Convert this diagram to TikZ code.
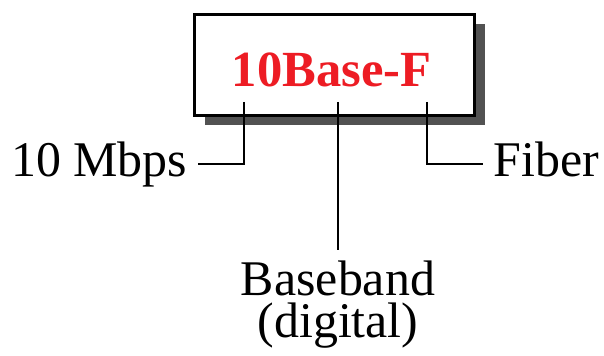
\documentclass[tikz,border=0pt]{standalone}
\usepackage{fontspec}
\setmainfont{Liberation Serif}
\usepackage{tikz}
\usetikzlibrary{
    calc,
    positioning,
    shadows
}
\definecolor{namered}{RGB}{237,28,36}
\tikzset{
    namebox/.style={draw, line width=2.3pt, fill=white,
        minimum width=7cm, minimum height=2.525cm, inner sep=0pt,
        drop shadow={shadow xshift=0.25cm, shadow yshift=-0.25cm,
            fill=black!68, opacity=1}},
    namefont/.style={font=\fontsize{36pt}{40pt}\selectfont\bfseries,
        text=namered, inner sep=0pt},
    part/.style={font=\fontsize{35.5pt}{40pt}\selectfont, inner ysep=0pt,
        inner xsep=0.26cm, text height=24.8pt, text depth=7.1pt},
    lead/.style={line width=2.1pt}
}

\begin{document}
\begin{tikzpicture}[scale=1.0]
    \useasboundingbox (0,0) rectangle (15.1,-8.9);
    \node[namebox] (box) at (8.3625,-1.625) {};
    \node[namefont, anchor=base] (name) at (8.2875,-2.175) {10Base-F};
    % points under the name
    \coordinate (rate) at (6.1,-2.55);
    \coordinate (band) at (8.45,-2.55);
    \coordinate (medium) at (10.675,-2.55);
    \node[part, anchor=east] (mbps) at (4.95,-4.1) {10 Mbps};
    \node[part, anchor=west] (fiber) at (12.075,-4.1) {Fiber};
    \node[font=\fontsize{35.5pt}{29.5pt}\selectfont, align=center,
        inner xsep=0pt, inner ysep=0.275cm, anchor=north]
        (baseband) at (8.45,-6.25) {Baseband\\(digital)};
    \draw[lead] (rate) |- (mbps.east);
    \draw[lead] (band) -- (baseband.north);
    \draw[lead] (medium) |- (fiber.west);
\end{tikzpicture}
\end{document}
